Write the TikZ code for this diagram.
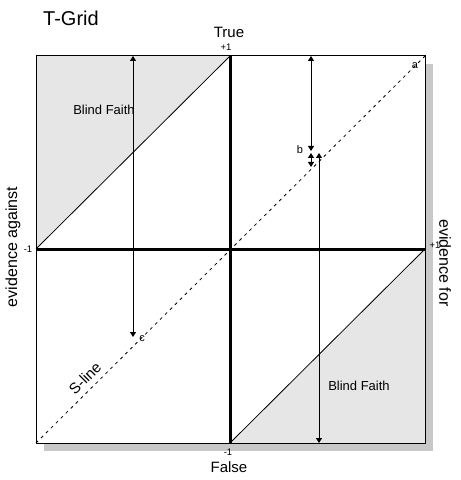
\documentclass[tikz,border=0pt]{standalone}
\usepackage{fontspec}
\setmainfont{Liberation Sans}
\usetikzlibrary{arrows.meta}
\definecolor{faithgray}{RGB}{230,230,230}
\definecolor{shadowgray}{RGB}{200,200,200}
\tikzset{
  lbl/.style={font=\fontsize{15bp}{18bp}\selectfont, inner sep=0pt},
  side/.style={font=\fontsize{16bp}{19bp}\selectfont, inner sep=0pt},
  bf/.style={font=\fontsize{13bp}{15bp}\selectfont, inner sep=0pt},
  tick/.style={font=\fontsize{9.5bp}{11bp}\selectfont, inner sep=0pt},
  pt/.style={font=\fontsize{11bp}{13bp}\selectfont, inner sep=0pt},
  span/.style={{Triangle[length=5bp,width=6bp]}-{Triangle[length=5bp,width=6bp]}, line width=1bp},
}
\begin{document}
\begin{tikzpicture}[x=1bp, y=-1bp]
    \useasboundingbox (0,0) rectangle (461,480);
    % Shadow and grid background
    \fill[shadowgray] (44,64) rectangle (433,451);
    \fill[white] (36,56) rectangle (425,443);

    % Blind faith corners
    \fill[faithgray] (36,56) -- (230,56) -- (36,249) -- cycle;
    \fill[faithgray] (425,443) -- (230,443) -- (425,249) -- cycle;
    \draw[line width=0.8bp] (36,249) -- (230,56);
    \draw[line width=0.8bp] (230,443) -- (425,249);

    % S-line (dashed diagonal)
    \draw[line width=0.8bp, dash pattern=on 3bp off 4bp] (36,443) -- (425,56);

    % Axes and frame
    \draw[line width=3bp] (36,249) -- (425,249);
    \draw[line width=3bp] (230,56) -- (230,443);
    \draw[line width=1bp] (36,56) rectangle (425,443);

    % Title and axis labels
    \node[font=\fontsize{20bp}{24bp}\selectfont, inner sep=0pt, anchor=west] (title) at (43,18) {T-Grid};
    \node[lbl] (true) at (229,32) {True};
    \node[lbl] (false) at (229,467) {False};
    \node[side, rotate=90] (against) at (13,247) {evidence against};
    \node[side, rotate=-90] (for) at (445,263) {evidence for};
    \node[tick] (ptop) at (226,47) {+1};
    \node[tick] (pleft) at (28,249) {-1};
    \node[tick] (pright) at (435,245) {+1};
    \node[tick] (pbottom) at (228,452) {-1};

    % Region labels
    \node[bf] (faithtop) at (104,110) {Blind Faith};
    \node[bf] (faithbot) at (359,386) {Blind Faith};
    \node[lbl, rotate=45] (sline) at (85,378) {S-line};

    % Points on the S-line
    \node[pt] (a) at (415,66) {a};
    \node[pt] (b) at (300,150) {b};
    \node[pt] (c) at (142,339) {c};

    % Distance arrows
    \coordinate (c1) at (133,56);
    \coordinate (c2) at (133,337);
    \coordinate (b1) at (311,56);
    \coordinate (b2) at (311,151);
    \coordinate (b3) at (311,153);
    \coordinate (b4) at (311,167);
    \coordinate (d1) at (319,153);
    \coordinate (d2) at (319,443);
    \draw[span] (c1) -- (c2);
    \draw[span] (b1) -- (b2);
    \draw[span] (b3) -- (b4);
    \draw[span] (d1) -- (d2);
\end{tikzpicture}
\end{document}
